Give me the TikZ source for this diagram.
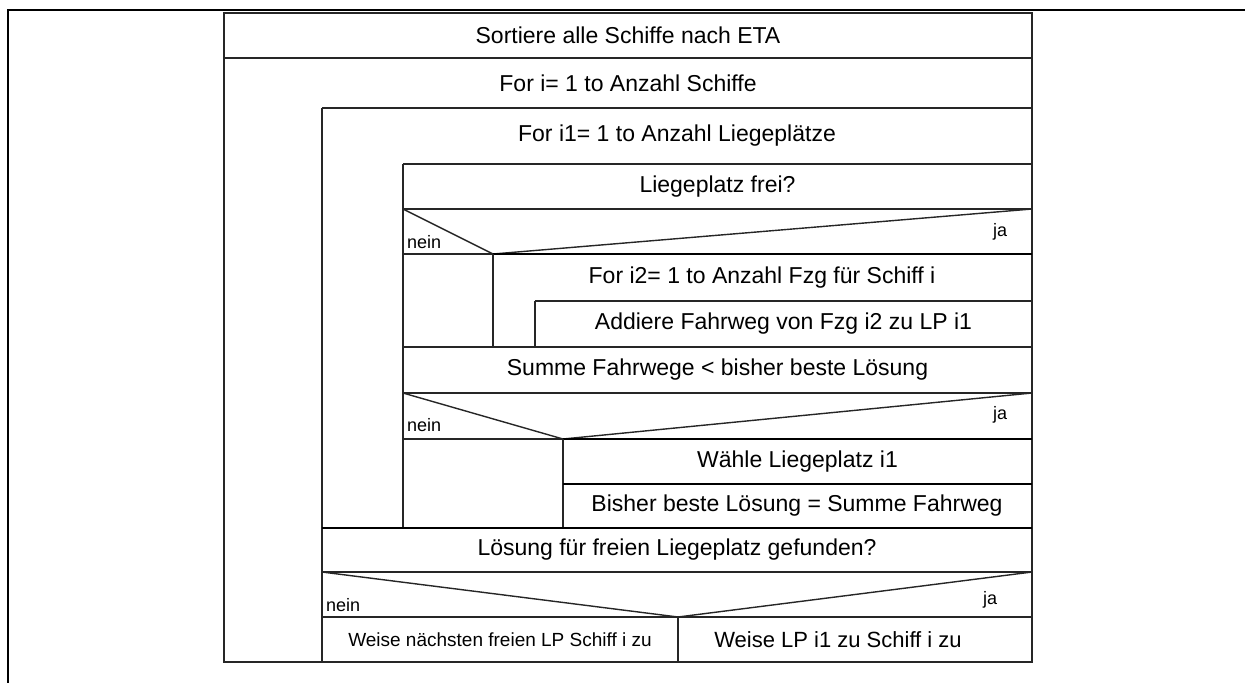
\documentclass[tikz,border=0pt]{standalone}
\usepackage{fontspec}
\setmainfont{Liberation Sans}
\begin{document}
\begin{tikzpicture}[x=1pt,y=-1pt,
  frame/.style={line width=2.6pt, draw=black},
  ln/.style={line width=1.4pt, draw=black!85},
  bold/.style={line width=2.2pt, draw=black},
  txt/.style={inner sep=0pt, font=\fontsize{23}{27}\selectfont},
  lbl/.style={inner sep=0pt, font=\fontsize{18}{21}\selectfont},
  note/.style={inner sep=0pt, font=\fontsize{19}{22}\selectfont}]
\useasboundingbox (0,0) rectangle (1245,683);

% page frame
\draw[frame] (1245,10) -- (8,10) -- (8,683);

% outer block and sequence
\draw[ln] (224,13) rectangle (1032,662);
\draw[ln] (224,58) -- (1032,58);

% loop over ships
\draw[ln] (322,108) -- (1032,108);
\draw[ln] (322,108) -- (322,662);

% loop over berths
\draw[ln] (403,164) -- (1032,164);
\draw[ln] (403,164) -- (403,528);
\draw[ln] (403,209) -- (1032,209);

% decision: berth free?
\draw[ln] (403,209) -- (493,254) -- (1032,209);
\draw[ln] (403,254) -- (493,254);
\draw[bold] (493,254) -- (1032,254);
\draw[ln] (493,254) -- (493,347);

% loop over vehicles
\draw[ln] (535,301) -- (1032,301);
\draw[ln] (535,301) -- (535,347);
\draw[ln] (403,347) -- (1032,347);

% decision: better solution?
\draw[ln] (403,393) -- (1032,393);
\draw[ln] (403,393) -- (563,439) -- (1032,393);
\draw[ln] (403,439) -- (563,439);
\draw[bold] (563,439) -- (1032,439);
\draw[ln] (563,439) -- (563,528);
\draw[bold] (563,484) -- (1032,484);
\draw[bold] (322,528) -- (1032,528);

% decision: solution found?
\draw[ln] (322,572) -- (1032,572);
\draw[ln] (322,572) -- (678,617) -- (1032,572);
\draw[ln] (322,617) -- (1032,617);
\draw[ln] (678,617) -- (678,662);

% texts
\node[txt] (sort) at (628,35.5) {Sortiere alle Schiffe nach ETA};
\node[txt] (fori) at (628,83) {For i= 1 to Anzahl Schiffe};
\node[txt] (fori1) at (677,136) {For i1= 1 to Anzahl Liegeplätze};
\node[txt] (frei) at (717.5,186.5) {Liegeplatz frei?};
\node[lbl, anchor=west] (nein1) at (407,242) {nein};
\node[lbl] (ja1) at (1000,232) {ja};
\node[txt] (fori2) at (762,277.5) {For i2= 1 to Anzahl Fzg für Schiff i};
\node[txt] (addiere) at (783.5,324) {Addiere Fahrweg von Fzg i2 zu LP i1};
\node[txt] (summe) at (717.5,370) {Summe Fahrwege < bisher beste Lösung};
\node[lbl, anchor=west] (nein2) at (407,425) {nein};
\node[lbl] (ja2) at (1000,415) {ja};
\node[txt] (waehle) at (797.5,461.5) {Wähle Liegeplatz i1};
\node[txt] (bisher) at (797,506) {Bisher beste Lösung = Summe Fahrweg};
\node[txt] (loesung) at (677,550) {Lösung für freien Liegeplatz gefunden?};
\node[lbl, anchor=west] (nein3) at (326,605) {nein};
\node[lbl] (ja3) at (990,600) {ja};
\node[note] (naechster) at (500,639.5) {Weise nächsten freien LP Schiff i zu};
\node[txt, font=\fontsize{22}{26}\selectfont] (weiselp) at (838,639.5) {Weise LP i1 zu Schiff i zu};
\end{tikzpicture}
\end{document}
